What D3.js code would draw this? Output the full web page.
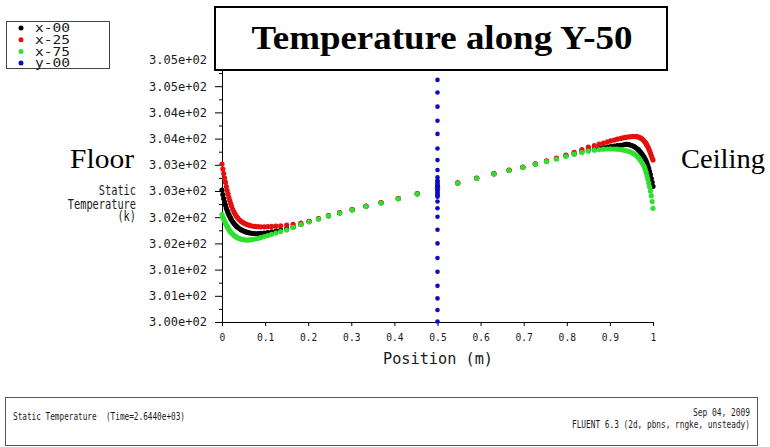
<!DOCTYPE html>
<html>
<head>
<meta charset="utf-8">
<script src="https://cdn.jsdelivr.net/npm/d3@7"></script>
<style>
  html, body { margin: 0; padding: 0; background: #fff; }
  svg { display: block; }
</style>
</head>
<body>
<svg id="chart" width="770" height="447"></svg>
<script>
// Sample positions along the line Y-50 (m), shared by the three x-lines
const positions = [
  0, 0.002, 0.004, 0.006, 0.008, 0.010, 0.012, 0.014, 0.016, 0.018, 0.020, 0.022,
  0.025, 0.028, 0.031, 0.034, 0.037, 0.041, 0.045, 0.049, 0.054, 0.059, 0.064,
  0.070, 0.076, 0.083, 0.090, 0.098, 0.106, 0.115, 0.125, 0.136, 0.150, 0.165,
  0.183, 0.202, 0.224, 0.247, 0.273, 0.302, 0.334, 0.369, 0.409, 0.453, 0.500,
  0.547, 0.591, 0.631, 0.666, 0.698, 0.727, 0.753, 0.776, 0.798, 0.817, 0.835,
  0.850, 0.864, 0.875, 0.885, 0.894, 0.902, 0.910, 0.917, 0.924, 0.930, 0.936,
  0.941, 0.946, 0.951, 0.955, 0.959, 0.963, 0.966, 0.969, 0.972, 0.975, 0.978,
  0.980, 0.982, 0.984, 0.986, 0.988, 0.990, 0.992, 0.994, 0.996, 0.998, 1.000
];

// Static temperature (K) on line x-00
const tempX00 = [
  302.519, 302.433, 302.357, 302.290, 302.233, 302.176, 302.126, 302.084, 302.046, 302.012, 301.981, 301.950,
  301.912, 301.878, 301.849, 301.824, 301.803, 301.779, 301.758, 301.740, 301.723, 301.710, 301.700,
  301.693, 301.689, 301.689, 301.693, 301.698, 301.708, 301.720, 301.735, 301.754, 301.779, 301.815,
  301.863, 301.916, 301.970, 302.027, 302.084, 302.141, 302.208, 302.275, 302.355, 302.447, 302.552,
  302.651, 302.743, 302.828, 302.895, 302.952, 303.015, 303.067, 303.118, 303.172, 303.210, 303.248,
  303.277, 303.298, 303.313, 303.326, 303.338, 303.347, 303.357, 303.365, 303.372, 303.378, 303.389,
  303.389, 303.382, 303.368, 303.353, 303.334, 303.309, 303.288, 303.261, 303.231, 303.198, 303.162,
  303.134, 303.105, 303.069, 303.027, 302.983, 302.931, 302.872, 302.809, 302.739, 302.666, 302.590
];

// Static temperature (K) on line x-25
const tempX25 = [
  303.015, 302.920, 302.834, 302.748, 302.668, 302.586, 302.510, 302.443, 302.376, 302.319, 302.265, 302.214,
  302.151, 302.095, 302.050, 302.012, 301.981, 301.947, 301.918, 301.895, 301.874, 301.857, 301.844,
  301.832, 301.824, 301.819, 301.817, 301.817, 301.819, 301.823, 301.828, 301.836, 301.849, 301.865,
  301.886, 301.922, 301.975, 302.031, 302.088, 302.145, 302.212, 302.279, 302.359, 302.451, 302.556,
  302.655, 302.747, 302.832, 302.899, 302.956, 303.019, 303.076, 303.126, 303.187, 303.239, 303.292,
  303.336, 303.366, 303.393, 303.416, 303.437, 303.456, 303.473, 303.489, 303.502, 303.513, 303.523,
  303.531, 303.534, 303.538, 303.540, 303.540, 303.536, 303.531, 303.521, 303.508, 303.490, 303.468,
  303.448, 303.428, 303.403, 303.374, 303.344, 303.307, 303.267, 303.225, 303.178, 303.130, 303.092
];

// Static temperature (K) on line x-75
const tempX75 = [
  302.052, 302.004, 301.960, 301.922, 301.886, 301.851, 301.819, 301.790, 301.763, 301.739, 301.718, 301.698,
  301.674, 301.653, 301.634, 301.618, 301.605, 301.590, 301.580, 301.573, 301.567, 301.565, 301.567,
  301.573, 301.584, 301.595, 301.611, 301.630, 301.651, 301.674, 301.698, 301.725, 301.756, 301.805,
  301.861, 301.912, 301.966, 302.023, 302.080, 302.137, 302.204, 302.271, 302.351, 302.443, 302.548,
  302.647, 302.739, 302.824, 302.891, 302.948, 303.010, 303.061, 303.111, 303.162, 303.202, 303.233,
  303.260, 303.279, 303.290, 303.298, 303.302, 303.303, 303.302, 303.298, 303.292, 303.284, 303.273,
  303.263, 303.252, 303.235, 303.216, 303.193, 303.164, 303.139, 303.107, 303.073, 303.034, 302.990,
  302.958, 302.910, 302.855, 302.792, 302.728, 302.655, 302.580, 302.500, 302.410, 302.300, 302.170
];

// Line y-00 crosses Y-50 at a single position; its temperatures all plot there
const y00Position = 0.5;
const tempY00 = [
  304.62, 304.38, 304.11, 303.84, 303.59, 303.31, 303.09, 302.90, 302.76, 302.70,
  302.67, 302.64, 302.61, 302.59, 302.56, 302.53, 302.50, 302.47, 302.44, 302.41, 302.39,
  302.30, 302.17, 302.01, 301.76, 301.50, 301.22, 300.96, 300.69, 300.45, 300.23, 300.01
];

const seriesNames = ["x-00", "x-25", "x-75", "y-00"];
const seriesColors = ["#000000", "#e41010", "#2fe02f", "#0c0cc4"];

const xTickValues = [0, 0.1, 0.2, 0.3, 0.4, 0.5, 0.6, 0.7, 0.8, 0.9, 1];
const xTickLabels = ["0", "0.1", "0.2", "0.3", "0.4", "0.5", "0.6", "0.7", "0.8", "0.9", "1"];
const yTickValues = [300, 300.5, 301, 301.5, 302, 302.5, 303, 303.5, 304, 304.5, 305];
const yTickLabels = ["3.00e+02", "3.01e+02", "3.01e+02", "3.02e+02", "3.02e+02", "3.03e+02",
                     "3.03e+02", "3.04e+02", "3.04e+02", "3.05e+02", "3.05e+02"];
const yMinorValues = [300.25, 300.75, 301.25, 301.75, 302.25, 302.75, 303.25, 303.75, 304.25, 304.75];

const mono = "'DejaVu Sans Mono', 'Liberation Mono', monospace";
const serif = "'Liberation Serif', 'DejaVu Serif', serif";
const ink = "#1a1a1a";

const svg = d3.select("#chart");
svg.append("rect").attr("width", 770).attr("height", 447).attr("fill", "#fff");

const x = d3.scaleLinear().domain([0, 1]).range([222, 653]);
const y = d3.scaleLinear().domain([300, 305]).range([322, 60]);

function squeeze(sel, w) {
  return sel.attr("textLength", w).attr("lengthAdjust", "spacingAndGlyphs");
}

// ---- axes ----
const yAxis = svg.append("g").attr("transform", `translate(${x(0)},0)`)
  .call(d3.axisLeft(y).tickValues(yTickValues)
    .tickFormat((d, i) => yTickLabels[i]).tickSize(7).tickSizeOuter(0).tickPadding(8));
yAxis.selectAll("text").attr("font-family", mono).attr("font-size", 12).attr("fill", ink)
  .each(function () { squeeze(d3.select(this), 58); });

svg.append("g").attr("transform", `translate(${x(0)},0)`)
  .call(d3.axisLeft(y).tickValues(yMinorValues).tickFormat("").tickSize(3).tickSizeOuter(0))
  .select(".domain").remove();

const xAxis = svg.append("g").attr("transform", `translate(0,${y(300)})`)
  .call(d3.axisBottom(x).tickValues(xTickValues)
    .tickFormat((d, i) => xTickLabels[i]).tickSize(4).tickSizeOuter(0).tickPadding(7));
xAxis.selectAll("text").attr("font-family", mono).attr("font-size", 11).attr("fill", ink)
  .each(function () {
    const t = d3.select(this);
    squeeze(t, t.text().length * 5.8);
  });

svg.selectAll(".domain, .tick line").attr("stroke", "#000").attr("stroke-width", 1);

svg.append("text").attr("x", 438).attr("y", 364).attr("text-anchor", "middle")
  .attr("font-family", mono).attr("font-size", 15.5).attr("fill", ink)
  .text("Position (m)").call(squeeze, 110);

const yTitle = ["Static", "Temperature", "(k)"];
const yTitleBase = [195, 209, 221];
yTitle.forEach((s, i) => {
  svg.append("text").attr("x", 136).attr("y", yTitleBase[i]).attr("text-anchor", "end")
    .attr("font-family", mono).attr("font-size", 14).attr("fill", ink)
    .text(s).call(squeeze, s.length * 6.2);
});

// ---- data markers ----
const lineSeries = [
  { name: seriesNames[0], color: seriesColors[0], temps: tempX00 },
  { name: seriesNames[1], color: seriesColors[1], temps: tempX25 },
  { name: seriesNames[2], color: seriesColors[2], temps: tempX75 }
];

lineSeries.forEach(s => {
  svg.append("g").selectAll("circle")
    .data(positions.map((p, i) => [p, s.temps[i]]))
    .join("circle")
    .attr("cx", d => x(d[0])).attr("cy", d => y(d[1]))
    .attr("r", 2.6).attr("fill", s.color);
});

svg.append("g").selectAll("circle")
  .data(tempY00)
  .join("circle")
  .attr("cx", x(y00Position)).attr("cy", d => y(d))
  .attr("r", 2.3).attr("fill", seriesColors[3]);

// ---- title box ----
svg.append("rect").attr("x", 215).attr("y", 7).attr("width", 452).attr("height", 63)
  .attr("fill", "#fff").attr("stroke", "#000").attr("stroke-width", 2);
svg.append("text").attr("x", 442).attr("y", 49).attr("text-anchor", "middle")
  .attr("font-family", serif).attr("font-weight", "bold").attr("font-size", 33)
  .attr("fill", "#000").text("Temperature along Y-50").call(squeeze, 381);

// ---- wall annotations ----
svg.append("text").attr("x", 70).attr("y", 168).attr("font-family", serif)
  .attr("font-size", 27).attr("fill", "#000").text("Floor").call(squeeze, 64);
svg.append("text").attr("x", 681).attr("y", 168).attr("font-family", serif)
  .attr("font-size", 27).attr("fill", "#000").text("Ceiling").call(squeeze, 84);

// ---- legend ----
const legend = svg.append("g");
legend.append("rect").attr("x", 6.5).attr("y", 21.5).attr("width", 103).attr("height", 47)
  .attr("fill", "#fff").attr("stroke", "#444").attr("stroke-width", 1);
seriesNames.forEach((n, i) => {
  const cy = 28 + i * 11.7;
  legend.append("circle").attr("cx", 21).attr("cy", cy).attr("r", 2.5).attr("fill", seriesColors[i]);
  legend.append("text").attr("x", 35).attr("y", cy + 4.3)
    .attr("font-family", mono).attr("font-size", 12).attr("fill", ink)
    .text(n).call(squeeze, 35);
});

// ---- footer ----
svg.append("rect").attr("x", 5.5).attr("y", 397.5).attr("width", 752).attr("height", 48)
  .attr("fill", "none").attr("stroke", "#555").attr("stroke-width", 1);
svg.append("text").attr("x", 13).attr("y", 420).attr("font-family", mono)
  .attr("font-size", 11).attr("fill", ink).attr("xml:space", "preserve")
  .text("Static Temperature  (Time=2.6440e+03)").call(squeeze, 172);
svg.append("text").attr("x", 750).attr("y", 416).attr("text-anchor", "end")
  .attr("font-family", mono).attr("font-size", 11).attr("fill", ink)
  .text("Sep 04, 2009").call(squeeze, 57);
svg.append("text").attr("x", 750).attr("y", 428).attr("text-anchor", "end")
  .attr("font-family", mono).attr("font-size", 11).attr("fill", ink)
  .text("FLUENT 6.3 (2d, pbns, rngke, unsteady)").call(squeeze, 178);
</script>
</body>
</html>
